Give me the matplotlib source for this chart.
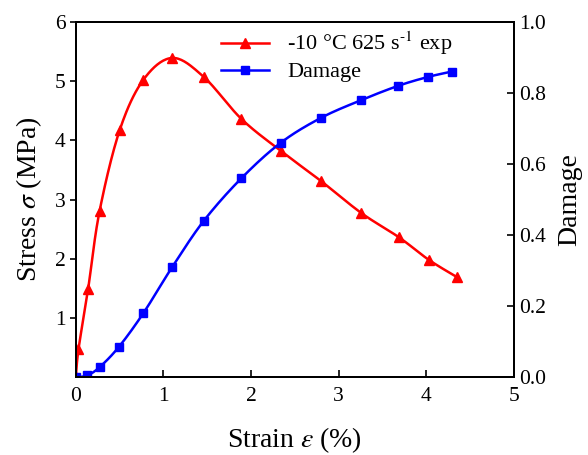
import matplotlib.pyplot as plt
import numpy as np

plt.rcParams['font.family'] = ['Liberation Serif', 'DejaVu Serif']
plt.rcParams['mathtext.fontset'] = 'stix'

# stress-strain (exp)
strain_s = [0.0, 0.03, 0.14, 0.27, 0.50, 0.77, 1.10, 1.46, 1.89, 2.34, 2.80, 3.26, 3.69, 4.03, 4.35]
stress = [0.0, 0.47, 1.49, 2.80, 4.17, 5.02, 5.39, 5.07, 4.36, 3.82, 3.31, 2.77, 2.36, 1.98, 1.69]

# damage
strain_d = [0.0, 0.13, 0.27, 0.49, 0.77, 1.10, 1.46, 1.89, 2.34, 2.80, 3.26, 3.68, 4.02, 4.29]
damage = [0.0, 0.005, 0.028, 0.085, 0.18, 0.31, 0.44, 0.56, 0.66, 0.73, 0.78, 0.82, 0.845, 0.86]


def smooth(x, y, n=20):
    # catmull-rom curve through the points, only for drawing the line
    p = np.column_stack([x, y])
    p = np.vstack([p[0], p, p[-1]])
    out = []
    for i in range(1, len(p) - 2):
        p0, p1, p2, p3 = p[i-1], p[i], p[i+1], p[i+2]
        t = np.linspace(0, 1, n, endpoint=False)[:, None]
        out.append(0.5 * (2*p1 + (-p0 + p2)*t + (2*p0 - 5*p1 + 4*p2 - p3)*t**2 + (-p0 + 3*p1 - 3*p2 + p3)*t**3))
    out.append(p[-2][None, :])
    out = np.vstack(out)
    return out[:, 0], out[:, 1]


fig = plt.figure(figsize=(5.88, 4.55), dpi=100)
ax = fig.add_axes([0.129, 0.171, 0.745, 0.781])
ax2 = ax.twinx()

xs, ys = smooth(strain_s, stress)
ax.plot(xs, ys, c='red', lw=1.8)
ax.plot(strain_s, stress, c='red', lw=0, marker='^', ms=7)
xd, yd = smooth(strain_d, damage)
ax2.plot(xd, yd, c='blue', lw=1.8)
ax2.plot(strain_d, damage, c='blue', lw=0, marker='s', ms=6)

# legend handles
l1, = ax.plot([], [], c='red', lw=1.8, marker='^', ms=7, label=r'-10 °C 625 s$^{\text{-1}}$ exp')
l2, = ax.plot([], [], c='blue', lw=1.8, marker='s', ms=6, label='Damage')

ax.set_xlim(0, 5)
ax.set_ylim(0, 6)
ax2.set_ylim(0, 1)
ax.set_xticks([0, 1, 2, 3, 4, 5])
ax.set_yticks([1, 2, 3, 4, 5, 6])
ax2.set_yticks([0, 0.2, 0.4, 0.6, 0.8, 1.0])
ax2.set_yticklabels(['0.0', '0.2', '0.4', '0.6', '0.8', '1.0'])

ax.tick_params(axis='x', direction='in', labelsize=15.5, width=1.2, length=5, pad=7)
ax.tick_params(axis='y', direction='out', labelsize=15.5, width=1.2, length=4)
ax2.tick_params(axis='y', direction='in', labelsize=15.5, width=1.2, length=5)
for a in (ax, ax2):
    for s in a.spines.values():
        s.set_linewidth(1.4)

ax.set_xlabel(r'Strain $\varepsilon$ (%)', fontsize=20, labelpad=14)
ax.set_ylabel(r'Stress $\sigma$ (MPa)', fontsize=20, labelpad=8)
ax2.set_ylabel('Damage', fontsize=20, labelpad=8)

ax.legend([l1, l2], [l1.get_label(), l2.get_label()], loc='upper left', bbox_to_anchor=(0.3, 1.015),
          frameon=False, fontsize=16, handlelength=2.2, labelspacing=0.2, borderaxespad=0.2)

plt.savefig('out.png')
